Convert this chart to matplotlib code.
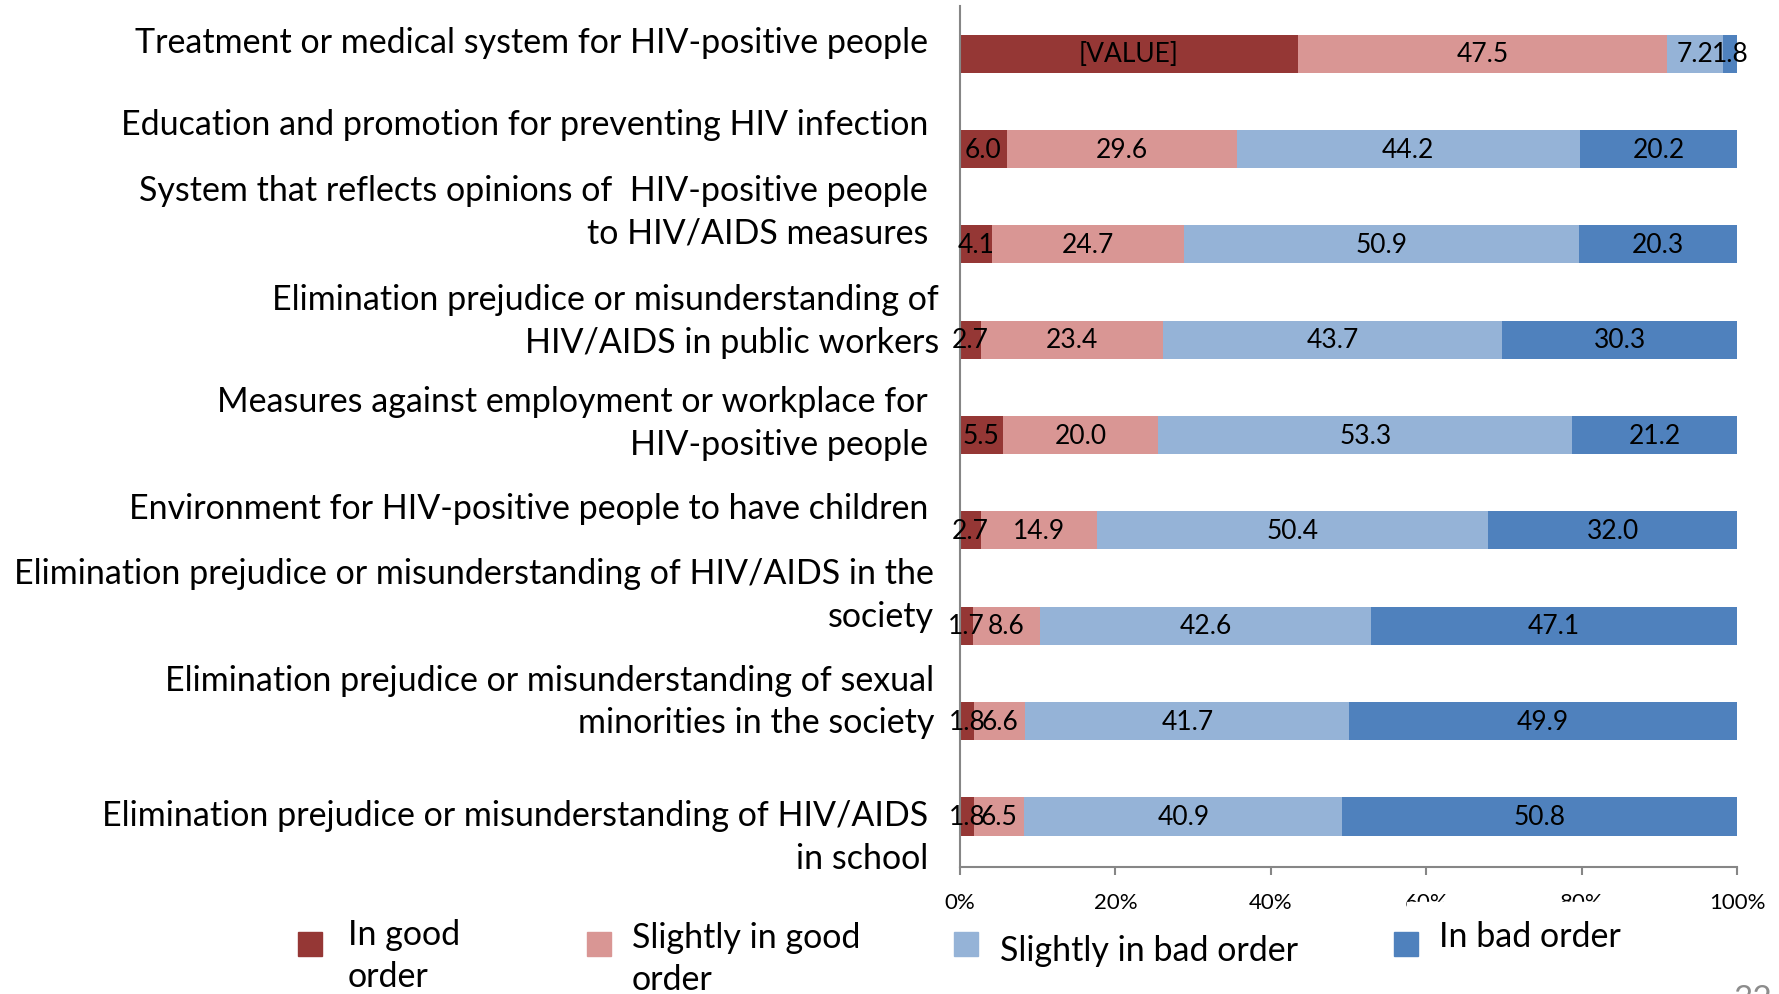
import numpy as np
import matplotlib.pyplot as plt
from matplotlib.patches import Rectangle
from matplotlib.transforms import blended_transform_factory

plt.rcParams['font.family'] = ['Lato', 'DejaVu Sans']

# data (percent of respondents)
categories = [
    "Treatment or medical system for HIV-positive people",
    "Education and promotion for preventing HIV infection",
    "System that reflects opinions of  HIV-positive people\nto HIV/AIDS measures",
    "Elimination prejudice or misunderstanding of\nHIV/AIDS in public workers",
    "Measures against employment or workplace for\nHIV-positive people",
    "Environment for HIV-positive people to have children",
    "Elimination prejudice or misunderstanding of HIV/AIDS in the\nsociety",
    "Elimination prejudice or misunderstanding of sexual\nminorities in the society",
    "Elimination prejudice or misunderstanding of HIV/AIDS\nin school",
]
good = [43.5, 6.0, 4.1, 2.7, 5.5, 2.7, 1.7, 1.8, 1.8]
slightly_good = [47.5, 29.6, 24.7, 23.4, 20.0, 14.9, 8.6, 6.6, 6.5]
slightly_bad = [7.2, 44.2, 50.9, 43.7, 53.3, 50.4, 42.6, 41.7, 40.9]
bad = [1.8, 20.2, 20.3, 30.3, 21.2, 32.0, 47.1, 49.9, 50.8]
good_labels = ["[VALUE]"] + ["%.1f" % v for v in good[1:]]

series_names = ["In good\norder", "Slightly in good\norder", "Slightly in bad order", "In bad order"]
colors = ["#953735", "#D99694", "#95B3D7", "#4F81BD"]

# layout tweaks (label placement copied from the slide)
label_dy = [-0.12, -0.26, -0.35, -0.20, -0.13, -0.24, -0.33, -0.21, 0.21]
label_right_px = [928, 928, 928, 939, 928, 928, 934, 934, 928]

W, H = 1779, 995
fig = plt.figure(figsize=(W / 100, H / 100), dpi=100)
ax = fig.add_axes([960 / W, 1 - 868 / H, (1737 - 960) / W, (868 - 7) / H])

y = np.arange(len(categories))
left = np.zeros(len(categories))
for vals, col, name in zip([good, slightly_good, slightly_bad, bad], colors, series_names):
    bars = ax.barh(y, vals, left=left, height=0.4, color=col, label=name)
    if col == colors[0]:
        labs = good_labels
    else:
        labs = ["%.1f" % v for v in vals]
    ax.bar_label(bars, labels=labs, label_type='center', fontsize=19, color='black')
    left = left + np.array(vals)

ax.set_xlim(0, 100)
ax.set_ylim(len(categories) - 0.47, -0.5)
ax.set_xticks([0, 20, 40, 60, 80, 100])
ax.set_xticklabels(["0%", "20%", "40%", "60%", "80%", "100%"], fontsize=16)
ax.set_yticks([])
for s in ["top", "right"]:
    ax.spines[s].set_visible(False)
for s in ["left", "bottom"]:
    ax.spines[s].set_color("#868686")
    ax.spines[s].set_linewidth(1.5)
ax.tick_params(axis='x', direction='out', length=6, width=1.5, color="#868686", pad=12)

# category labels to the left of the plot
trans = blended_transform_factory(fig.transFigure, ax.transData)
for i, (cat, dy, rx) in enumerate(zip(categories, label_dy, label_right_px)):
    ax.text(rx / W, i + dy, cat, transform=trans, ha='right', va='center',
            multialignment='right', fontsize=24.5, linespacing=1.4)

# legend drawn by hand, as placed on the slide
leg_box_x = [310, 599, 966, 1406]
leg_text_x = [348, 632, 1000, 1439]
leg_text_y = [956, 959, 951, 937]
# white box of the slide legend that hides the bottom of two tick labels
fig.patches.append(Rectangle((1407 / W, 0), (1611 - 1407) / W, 1 - 903 / H,
                             transform=fig.transFigure, color='white', zorder=5))
for name, col, bx, tx, ty in zip(series_names, colors, leg_box_x, leg_text_x, leg_text_y):
    fig.patches.append(Rectangle(((bx - 12) / W, 1 - 957 / H), 24 / W, 24 / H,
                                 transform=fig.transFigure, color=col, zorder=6))
    fig.text(tx / W, 1 - ty / H, name, ha='left', va='center', fontsize=24.5,
             linespacing=1.4, zorder=7)

# slide page number, cut off by the slide edge
fig.text(1753 / W, 1 - 985 / H, "32", ha='center', va='top', fontsize=24, color='#8c8c8c')

fig.savefig("out.png", dpi=100)
